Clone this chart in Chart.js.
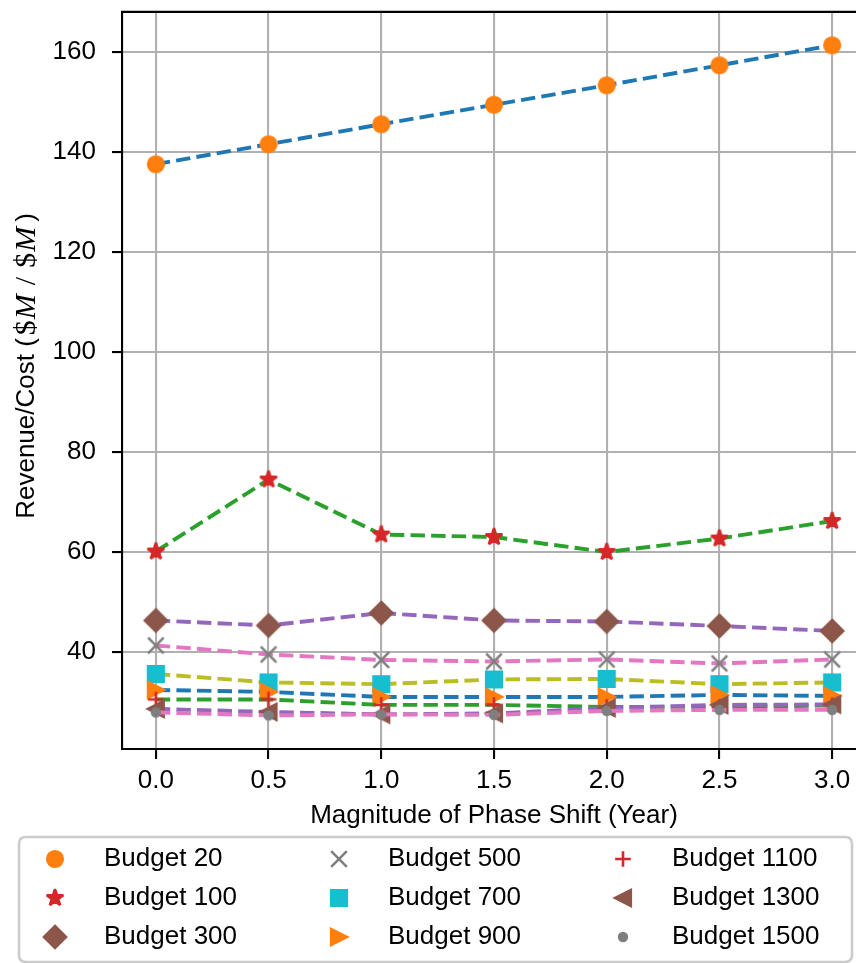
<!DOCTYPE html>
<html>
<head>
<meta charset="utf-8">
<script src="https://cdn.jsdelivr.net/npm/chart.js@4"></script>
<style>
  html, body { margin: 0; padding: 0; overflow: hidden; background: #fff; width: 856px; height: 963px; }
  #wrap { position: absolute; left: 0; top: 0; }
</style>
</head>
<body>
<div id="wrap"><canvas id="c" width="890" height="963"></canvas></div>
<script>
// Phase shift magnitudes (years) on the x axis
const phaseShift = [0.0, 0.5, 1.0, 1.5, 2.0, 2.5, 3.0];

// Revenue/Cost ratio per budget level
const budget20   = [137.6, 141.6, 145.6, 149.5, 153.4, 157.4, 161.4];
const budget100  = [60.1, 74.5, 63.5, 63.0, 60.0, 62.7, 66.2];
const budget300  = [46.3, 45.3, 47.8, 46.3, 46.1, 45.2, 44.2];
const budget500  = [41.3, 39.5, 38.4, 38.1, 38.5, 37.7, 38.5];
const budget700  = [35.6, 33.9, 33.55, 34.5, 34.6, 33.55, 33.9];
const budget900  = [32.4, 32.0, 31.0, 31.0, 31.0, 31.4, 31.2];
const budget1100 = [30.5, 30.5, 29.4, 29.4, 29.0, 29.0, 29.3];
const budget1300 = [28.6, 28.0, 27.5, 27.7, 28.8, 29.4, 29.5];
const budget1500 = [27.9, 27.3, 27.5, 27.4, 28.2, 28.4, 28.4];

const seriesLabels = ['Budget 20', 'Budget 100', 'Budget 300', 'Budget 500', 'Budget 700',
                      'Budget 900', 'Budget 1100', 'Budget 1300', 'Budget 1500'];
const seriesValues = [budget20, budget100, budget300, budget500, budget700,
                      budget900, budget1100, budget1300, budget1500];

// Tick positions
const xTicks = [0.0, 0.5, 1.0, 1.5, 2.0, 2.5, 3.0];
const yTicks = [40, 60, 80, 100, 120, 140, 160];

// tab10 palette: dashed lines take the even colours, markers the odd ones
const tab10 = ['#1f77b4', '#ff7f0e', '#2ca02c', '#d62728', '#9467bd',
               '#8c564b', '#e377c2', '#7f7f7f', '#bcbd22', '#17becf'];
const markerKinds = ['circle', 'star', 'diamond', 'x', 'square', 'triRight', 'plus', 'triLeft', 'point'];

const FONT = '"Liberation Sans", Arial, Helvetica, sans-serif';
const FS = 26;

// Build a marker sprite on an offscreen canvas
function makeMarker(kind, color) {
  const s = 34;
  const cv = document.createElement('canvas');
  cv.width = s; cv.height = s;
  const g = cv.getContext('2d');
  g.translate(s / 2, s / 2);
  const h = 7.8;
  g.fillStyle = color;
  g.strokeStyle = color;
  g.lineWidth = 2.6;
  g.lineJoin = 'miter';
  g.beginPath();
  switch (kind) {
    case 'circle':
      g.arc(0, 0, h, 0, Math.PI * 2); g.fill(); g.stroke(); break;
    case 'point':
      g.arc(0, 0, h / 2, 0, Math.PI * 2); g.fill(); g.stroke(); break;
    case 'square':
      g.rect(-h, -h, 2 * h, 2 * h); g.fill(); g.stroke(); break;
    case 'diamond': {
      const d = h * Math.SQRT2;
      g.moveTo(0, -d); g.lineTo(d, 0); g.lineTo(0, d); g.lineTo(-d, 0); g.closePath();
      g.fill(); g.stroke(); break;
    }
    case 'triRight':
      g.moveTo(h, 0); g.lineTo(-h, -h); g.lineTo(-h, h); g.closePath(); g.fill(); g.stroke(); break;
    case 'triLeft':
      g.moveTo(-h, 0); g.lineTo(h, -h); g.lineTo(h, h); g.closePath(); g.fill(); g.stroke(); break;
    case 'star': {
      g.lineJoin = 'bevel';
      const outer = h * 1.12;
      const inner = outer * 0.381966;
      for (let k = 0; k < 10; k++) {
        const r = k % 2 === 0 ? outer : inner;
        const a = -Math.PI / 2 + k * Math.PI / 5;
        const px = Math.cos(a) * r, py = Math.sin(a) * r;
        if (k === 0) g.moveTo(px, py); else g.lineTo(px, py);
      }
      g.closePath(); g.fill(); g.stroke(); break;
    }
    case 'x':
      g.moveTo(-h, -h); g.lineTo(h, h); g.moveTo(-h, h); g.lineTo(h, -h); g.stroke(); break;
    case 'plus':
      g.moveTo(-h, 0); g.lineTo(h, 0); g.moveTo(0, -h); g.lineTo(0, h); g.stroke(); break;
  }
  return cv;
}

const N = seriesValues.length;
const markers = seriesValues.map((_, i) => makeMarker(markerKinds[i], tab10[(2 * i + 1) % 10]));

const datasets = seriesValues.map((vals, i) => ({
  label: seriesLabels[i],
  data: vals.map((y, j) => ({ x: phaseShift[j], y })),
  borderColor: tab10[(2 * i) % 10],
  borderWidth: 3.9,
  borderDash: [14.4, 6.2],
  pointStyle: markers[i],
  pointRadius: 8,
  pointHoverRadius: 8,
  fill: false,
  tension: 0,
  order: N - i
}));

// Axes frame (top spine), axis titles and a three-column legend
const decorations = {
  id: 'decorations',
  afterDraw(chart) {
    const ctx = chart.ctx;
    const a = chart.chartArea;
    ctx.save();

    // top spine
    ctx.strokeStyle = '#000';
    ctx.lineWidth = 2.1;
    ctx.beginPath();
    ctx.moveTo(a.left - 1, a.top);
    ctx.lineTo(a.right + 1, a.top);
    ctx.stroke();

    // x axis title
    ctx.fillStyle = '#000';
    ctx.font = FS + 'px ' + FONT;
    ctx.textAlign = 'center';
    ctx.textBaseline = 'middle';
    ctx.fillText('Magnitude of Phase Shift (Year)', (a.left + a.right) / 2, 816);

    // y axis title with math-style units
    const serif = '"Liberation Serif", "DejaVu Serif", serif';
    const mf = 30;
    const parts = [
      { t: 'Revenue/Cost (', f: FS + 'px ' + FONT, gap: 0 },
      { t: '$', f: mf + 'px ' + serif, gap: 3 },
      { t: 'M', f: 'italic ' + mf + 'px ' + serif, gap: 1 },
      { t: '/', f: mf + 'px ' + serif, gap: 9 },
      { t: '$', f: mf + 'px ' + serif, gap: 9 },
      { t: 'M', f: 'italic ' + mf + 'px ' + serif, gap: 1 },
      { t: ')', f: FS + 'px ' + FONT, gap: 5 }
    ];
    let total = 0;
    parts.forEach(p => { ctx.font = p.f; p.w = ctx.measureText(p.t).width; total += p.w + p.gap; });
    ctx.translate(27, 366);
    ctx.rotate(-Math.PI / 2);
    ctx.textAlign = 'left';
    ctx.textBaseline = 'middle';
    let cx = -total / 2;
    parts.forEach(p => {
      cx += p.gap;
      ctx.font = p.f;
      ctx.fillText(p.t, cx, 0);
      cx += p.w;
    });
    ctx.setTransform(1, 0, 0, 1, 0, 0);

    // legend box
    const bx = 19, by = 837, bw = 833, bh = 125, br = 7;
    ctx.beginPath();
    ctx.moveTo(bx + br, by);
    ctx.lineTo(bx + bw - br, by);
    ctx.quadraticCurveTo(bx + bw, by, bx + bw, by + br);
    ctx.lineTo(bx + bw, by + bh - br);
    ctx.quadraticCurveTo(bx + bw, by + bh, bx + bw - br, by + bh);
    ctx.lineTo(bx + br, by + bh);
    ctx.quadraticCurveTo(bx, by + bh, bx, by + bh - br);
    ctx.lineTo(bx, by + br);
    ctx.quadraticCurveTo(bx, by, bx + br, by);
    ctx.closePath();
    ctx.fillStyle = 'rgba(255,255,255,0.8)';
    ctx.fill();
    ctx.strokeStyle = '#cccccc';
    ctx.lineWidth = 2.6;
    ctx.stroke();

    const markerX = [55, 339, 623];
    const textX = [104, 388, 672];
    const rowY = [859, 898, 937];
    ctx.font = FS + 'px ' + FONT;
    ctx.fillStyle = '#000';
    ctx.textAlign = 'left';
    ctx.textBaseline = 'middle';
    chart.data.datasets.forEach((ds, i) => {
      const col = Math.floor(i / 3), row = i % 3;
      const m = ds.pointStyle;
      ctx.drawImage(m, markerX[col] - m.width / 2, rowY[row] - m.height / 2);
      ctx.fillText(ds.label, textX[col], rowY[row]);
    });
    ctx.restore();
  }
};

const gridStyle = {
  color: '#b0b0b0',
  lineWidth: 2.1,
  tickColor: '#000',
  tickLength: 10,
  tickWidth: 2.1,
  drawTicks: true
};

new Chart(document.getElementById('c'), {
  type: 'line',
  data: { datasets },
  options: {
    responsive: false,
    animation: false,
    devicePixelRatio: 1,
    events: [],
    layout: { padding: { top: 10, right: 24, left: 0, bottom: 0 } },
    plugins: { legend: { display: false }, tooltip: { enabled: false }, title: { display: false } },
    scales: {
      x: {
        type: 'linear',
        min: -0.15,
        max: 3.15,
        afterBuildTicks: s => { s.ticks = xTicks.map(v => ({ value: v })); },
        afterFit: s => { s.height = 214; s.paddingLeft = 0; s.paddingRight = 0; },
        ticks: {
          callback: v => Number(v).toFixed(1),
          font: { family: FONT, size: FS },
          color: '#000',
          padding: 6,
          maxRotation: 0,
          autoSkip: false
        },
        grid: gridStyle,
        border: { display: true, color: '#000', width: 2.1 }
      },
      y: {
        type: 'linear',
        min: 20.58,
        max: 168.08,
        afterBuildTicks: s => { s.ticks = yTicks.map(v => ({ value: v })); },
        afterFit: s => { s.width = 122; s.paddingTop = 0; s.paddingBottom = 0; },
        ticks: {
          callback: v => String(v),
          font: { family: FONT, size: FS },
          color: '#000',
          padding: 16,
          autoSkip: false
        },
        grid: gridStyle,
        border: { display: true, color: '#000', width: 2.1 }
      }
    }
  },
  plugins: [decorations]
});
</script>
</body>
</html>
